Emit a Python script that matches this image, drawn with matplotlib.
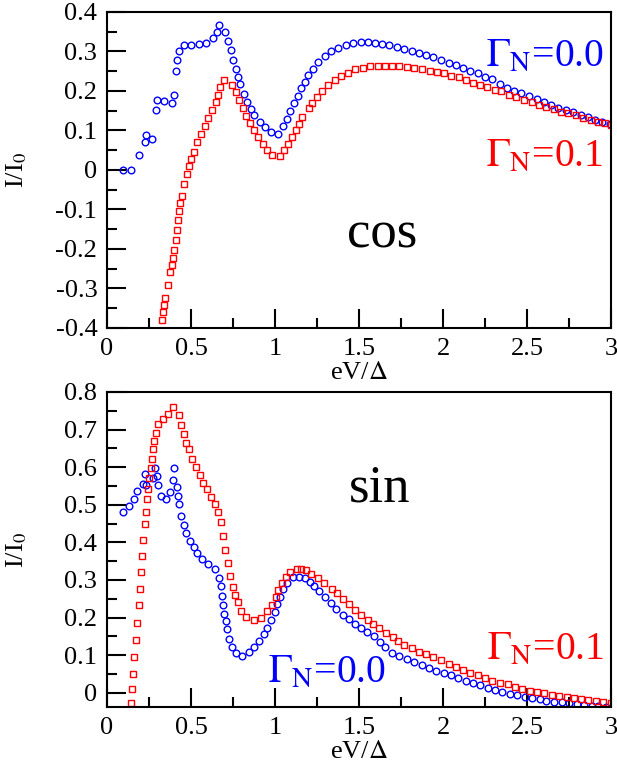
import matplotlib
matplotlib.use('Agg')
import matplotlib.pyplot as plt
from matplotlib.ticker import MultipleLocator, FormatStrFormatter

plt.rcParams['font.family'] = ['Liberation Serif', 'DejaVu Serif']
plt.rcParams['mathtext.fontset'] = 'stix'
plt.rcParams['axes.unicode_minus'] = False

# cos component, Gamma_N = 0.0
cos_x_g0 = [0.098, 0.143, 0.189, 0.225, 0.233, 0.269, 0.291, 0.299, 0.342, 0.384,
            0.400, 0.408, 0.414, 0.428, 0.460, 0.500, 0.546, 0.589, 0.633, 0.653,
            0.669, 0.705, 0.721, 0.737, 0.751, 0.765, 0.779, 0.793, 0.814, 0.836,
            0.858, 0.878, 0.910, 0.938, 0.976, 1.020, 1.047, 1.069, 1.091, 1.113,
            1.137, 1.155, 1.179, 1.199, 1.229, 1.256, 1.296, 1.334, 1.376, 1.422,
            1.466, 1.509, 1.551, 1.595, 1.637, 1.681, 1.724, 1.770, 1.814, 1.856,
            1.900, 1.943, 1.989, 2.033, 2.077, 2.119, 2.162, 2.208, 2.252, 2.294,
            2.338, 2.382, 2.423, 2.467, 2.513, 2.557, 2.601, 2.642, 2.686, 2.730,
            2.776, 2.820, 2.861, 2.905, 2.949, 2.995]
cos_y_g0 = [0.000, 0.001, 0.038, 0.070, 0.089, 0.078, 0.152, 0.178, 0.175, 0.169,
            0.191, 0.250, 0.278, 0.301, 0.316, 0.317, 0.320, 0.322, 0.333, 0.349,
            0.367, 0.349, 0.327, 0.304, 0.279, 0.256, 0.235, 0.218, 0.192, 0.172,
            0.154, 0.139, 0.122, 0.108, 0.095, 0.092, 0.111, 0.129, 0.150, 0.169,
            0.188, 0.207, 0.224, 0.240, 0.256, 0.273, 0.288, 0.300, 0.310, 0.317,
            0.322, 0.324, 0.323, 0.322, 0.319, 0.316, 0.311, 0.307, 0.302, 0.296,
            0.291, 0.285, 0.278, 0.272, 0.266, 0.258, 0.251, 0.245, 0.236, 0.230,
            0.217, 0.208, 0.201, 0.194, 0.187, 0.180, 0.171, 0.165, 0.158, 0.152,
            0.146, 0.139, 0.133, 0.127, 0.122, 0.116]

# cos component, Gamma_N = 0.1
cos_x_g1 = [0.327, 0.333, 0.340, 0.348, 0.364, 0.376, 0.384, 0.392, 0.400, 0.408,
            0.414, 0.422, 0.428, 0.436, 0.444, 0.460, 0.474, 0.488, 0.502, 0.516,
            0.538, 0.560, 0.581, 0.603, 0.625, 0.647, 0.661, 0.675, 0.699, 0.743,
            0.765, 0.787, 0.808, 0.830, 0.852, 0.874, 0.896, 0.926, 0.954, 0.984,
            1.027, 1.055, 1.079, 1.101, 1.123, 1.145, 1.163, 1.203, 1.223, 1.252,
            1.278, 1.318, 1.356, 1.392, 1.432, 1.477, 1.521, 1.567, 1.611, 1.655,
            1.697, 1.740, 1.784, 1.830, 1.874, 1.920, 1.963, 2.005, 2.049, 2.093,
            2.135, 2.178, 2.222, 2.264, 2.308, 2.348, 2.393, 2.437, 2.481, 2.527,
            2.571, 2.616, 2.660, 2.704, 2.746, 2.790, 2.836, 2.879, 2.921, 2.965,
            3.000]
cos_y_g1 = [-0.381, -0.360, -0.343, -0.325, -0.290, -0.259, -0.241, -0.223, -0.203, -0.177,
            -0.151, -0.126, -0.103, -0.083, -0.065, -0.035, -0.011, 0.011, 0.029, 0.046,
            0.070, 0.092, 0.111, 0.131, 0.151, 0.171, 0.190, 0.209, 0.228, 0.215,
            0.197, 0.177, 0.156, 0.137, 0.118, 0.100, 0.084, 0.067, 0.051, 0.037,
            0.035, 0.050, 0.066, 0.083, 0.100, 0.116, 0.133, 0.158, 0.170, 0.186,
            0.200, 0.215, 0.228, 0.238, 0.246, 0.255, 0.258, 0.262, 0.264, 0.264,
            0.263, 0.262, 0.260, 0.257, 0.255, 0.251, 0.248, 0.245, 0.238, 0.235,
            0.228, 0.221, 0.214, 0.209, 0.203, 0.199, 0.190, 0.184, 0.177, 0.171,
            0.165, 0.159, 0.154, 0.148, 0.143, 0.138, 0.132, 0.127, 0.122, 0.118,
            0.114]

# sin component, Gamma_N = 0.0
sin_x_g0 = [0.098, 0.131, 0.159, 0.181, 0.213, 0.225, 0.233, 0.273, 0.283, 0.297,
            0.305, 0.319, 0.354, 0.376, 0.390, 0.400, 0.414, 0.422, 0.430, 0.442,
            0.458, 0.472, 0.494, 0.516, 0.538, 0.568, 0.603, 0.641, 0.669, 0.677,
            0.685, 0.691, 0.699, 0.707, 0.713, 0.727, 0.743, 0.765, 0.806, 0.846,
            0.874, 0.902, 0.932, 0.954, 0.976, 0.998, 1.014, 1.027, 1.047, 1.069,
            1.105, 1.141, 1.180, 1.210, 1.233, 1.262, 1.298, 1.332, 1.366, 1.402,
            1.442, 1.477, 1.511, 1.547, 1.587, 1.627, 1.655, 1.697, 1.740, 1.784,
            1.828, 1.872, 1.916, 1.959, 2.003, 2.047, 2.091, 2.135, 2.178, 2.222,
            2.266, 2.310, 2.350, 2.397, 2.441, 2.487, 2.531, 2.577, 2.616, 2.660,
            2.706, 2.750, 2.796, 2.839, 2.885, 2.925, 2.971, 3.000]
sin_y_g0 = [0.481, 0.496, 0.514, 0.536, 0.554, 0.582, 0.552, 0.570, 0.598, 0.576,
            0.552, 0.524, 0.514, 0.535, 0.566, 0.597, 0.548, 0.523, 0.503, 0.471,
            0.446, 0.426, 0.404, 0.388, 0.372, 0.355, 0.342, 0.330, 0.306, 0.284,
            0.258, 0.233, 0.210, 0.190, 0.170, 0.142, 0.122, 0.105, 0.098, 0.107,
            0.121, 0.137, 0.157, 0.173, 0.193, 0.216, 0.235, 0.254, 0.276, 0.293,
            0.307, 0.309, 0.304, 0.295, 0.284, 0.270, 0.254, 0.238, 0.223, 0.208,
            0.195, 0.183, 0.173, 0.162, 0.152, 0.136, 0.122, 0.106, 0.098, 0.089,
            0.081, 0.074, 0.066, 0.059, 0.052, 0.047, 0.039, 0.032, 0.027, 0.021,
            0.013, 0.006, 0.002, -0.003, -0.007, -0.012, -0.015, -0.018, -0.021, -0.024,
            -0.026, -0.028, -0.030, -0.033, -0.035, -0.036, -0.038, -0.040]

# sin component, Gamma_N = 0.1
sin_x_g1 = [0.143, 0.149, 0.157, 0.163, 0.173, 0.181, 0.189, 0.195, 0.203, 0.209,
            0.217, 0.225, 0.231, 0.239, 0.247, 0.253, 0.261, 0.269, 0.275, 0.281,
            0.289, 0.303, 0.333, 0.362, 0.390, 0.428, 0.442, 0.458, 0.472, 0.486,
            0.508, 0.530, 0.552, 0.573, 0.595, 0.617, 0.641, 0.661, 0.677, 0.691,
            0.705, 0.719, 0.735, 0.749, 0.763, 0.777, 0.800, 0.830, 0.874, 0.918,
            0.952, 0.984, 1.004, 1.020, 1.039, 1.063, 1.091, 1.133, 1.153, 1.183,
            1.217, 1.253, 1.292, 1.342, 1.372, 1.406, 1.438, 1.477, 1.511, 1.551,
            1.585, 1.621, 1.661, 1.700, 1.734, 1.770, 1.814, 1.856, 1.900, 1.943,
            1.989, 2.033, 2.077, 2.119, 2.162, 2.208, 2.252, 2.294, 2.338, 2.384,
            2.427, 2.471, 2.517, 2.561, 2.603, 2.646, 2.690, 2.736, 2.780, 2.822,
            2.865, 2.909, 2.955, 3.000]
sin_y_g1 = [-0.028, 0.010, 0.051, 0.094, 0.140, 0.186, 0.232, 0.277, 0.320, 0.364,
            0.406, 0.449, 0.482, 0.514, 0.542, 0.570, 0.599, 0.622, 0.649, 0.670,
            0.692, 0.715, 0.729, 0.742, 0.759, 0.738, 0.711, 0.687, 0.665, 0.647,
            0.623, 0.601, 0.578, 0.559, 0.541, 0.520, 0.503, 0.480, 0.455, 0.418,
            0.379, 0.344, 0.311, 0.282, 0.259, 0.240, 0.218, 0.202, 0.193, 0.199,
            0.217, 0.233, 0.254, 0.273, 0.293, 0.309, 0.322, 0.329, 0.329, 0.326,
            0.317, 0.306, 0.291, 0.276, 0.264, 0.249, 0.235, 0.220, 0.207, 0.193,
            0.182, 0.171, 0.158, 0.147, 0.137, 0.127, 0.118, 0.109, 0.102, 0.094,
            0.086, 0.077, 0.069, 0.060, 0.052, 0.046, 0.039, 0.032, 0.026, 0.022,
            0.016, 0.011, 0.005, 0.002, -0.002, -0.006, -0.009, -0.012, -0.015, -0.017,
            -0.019, -0.022, -0.024, -0.027]

BLUE = '#0000ff'
RED = '#ff0000'
TICK_FS = 19
GAMMA_FS = 28.5


def style_axes(ax, ylim):
    ax.set_xlim(0, 3)
    ax.set_ylim(*ylim)
    for sp in ax.spines.values():
        sp.set_linewidth(1.5)
    ax.xaxis.set_major_locator(MultipleLocator(0.5))
    ax.xaxis.set_minor_locator(MultipleLocator(0.25))
    ax.yaxis.set_major_locator(MultipleLocator(0.1))
    ax.yaxis.set_minor_locator(MultipleLocator(0.05))
    ax.xaxis.set_major_formatter(FormatStrFormatter('%g'))
    ax.yaxis.set_major_formatter(FormatStrFormatter('%g'))
    ax.tick_params(which='both', direction='in', top=False, right=False,
                   labelsize=TICK_FS, width=1.5)
    ax.tick_params(which='major', length=14, pad=7)
    ax.tick_params(which='minor', length=7)
    ax.set_xlabel(r'eV/$\Delta$', fontsize=TICK_FS, labelpad=2)
    ax.set_ylabel(r'I/I$_0$', fontsize=TICK_FS)
    ax.yaxis.set_label_coords(-0.155, 0.5)


def draw_series(ax, x0, y0, x1, y1):
    ax.plot(x0, y0, linestyle='none', marker='o', markersize=4.8,
            markerfacecolor='none', markeredgecolor=BLUE, markeredgewidth=1.0)
    ax.plot(x1, y1, linestyle='none', marker='s', markersize=4.2,
            markerfacecolor='none', markeredgecolor=RED, markeredgewidth=1.0)


fig = plt.figure(figsize=(6.17, 7.73), dpi=100)

ax1 = fig.add_axes([0.1734, 0.5757, 0.8169, 0.4088])
draw_series(ax1, cos_x_g0, cos_y_g0, cos_x_g1, cos_y_g1)
style_axes(ax1, (-0.4, 0.4))
ax1.text(1.64, -0.195, 'cos', fontsize=38, ha='center', va='baseline')
ax1.text(2.255, 0.261, r'$\Gamma_{\rm N}$=0.0', fontsize=GAMMA_FS, color=BLUE,
         ha='left', va='baseline')
ax1.text(2.255, 0.008, r'$\Gamma_{\rm N}$=0.1', fontsize=GAMMA_FS, color=RED,
         ha='left', va='baseline')

ax2 = fig.add_axes([0.1734, 0.0854, 0.8169, 0.4075])
draw_series(ax2, sin_x_g0, sin_y_g0, sin_x_g1, sin_y_g1)
style_axes(ax2, (-0.038, 0.8))
ax2.text(1.625, 0.508, 'sin', fontsize=38, ha='center', va='baseline')
ax2.text(0.96, 0.028, r'$\Gamma_{\rm N}$=0.0', fontsize=GAMMA_FS, color=BLUE,
         ha='left', va='baseline')
ax2.text(2.262, 0.087, r'$\Gamma_{\rm N}$=0.1', fontsize=GAMMA_FS, color=RED,
         ha='left', va='baseline')

fig.savefig('out.png', dpi=100)
